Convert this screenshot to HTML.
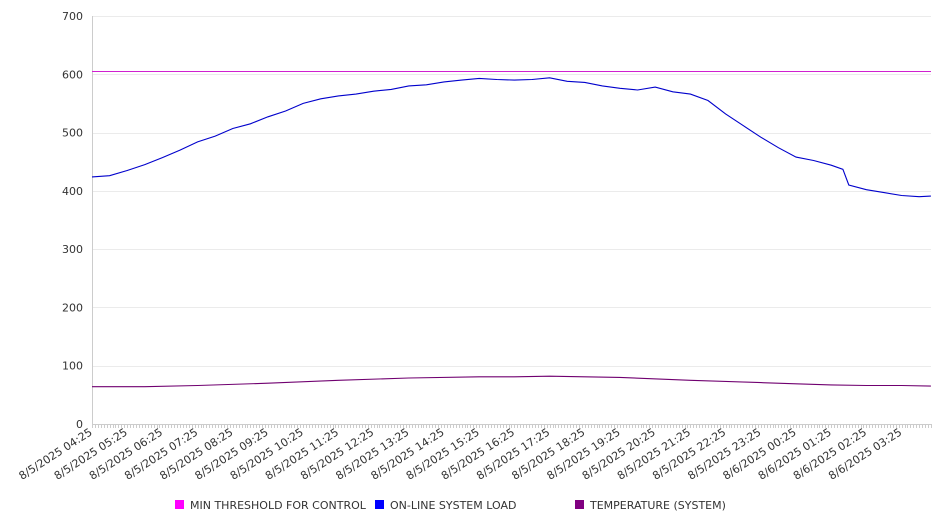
<!DOCTYPE html>
<html><head><meta charset="utf-8">
<style>
html,body{margin:0;padding:0;background:#fff;}
svg{display:block;font-family:"DejaVu Sans","Liberation Sans",sans-serif;}
</style></head>
<body>
<svg id="chart" width="946" height="526" xmlns="http://www.w3.org/2000/svg">
<g id="grid"></g>
<g id="yaxis"></g>
<g id="xaxis"></g>
<g id="series"></g>
<g id="legend">
  <g>
    <rect x="175" y="500" width="9" height="9" fill="#ff00ff"/>
    <text x="190" y="509" font-size="11" fill="#333">MIN THRESHOLD FOR CONTROL</text>
  </g>
  <g>
    <rect x="375" y="500" width="9" height="9" fill="#0000ff"/>
    <text x="390" y="509" font-size="11" fill="#333">ON-LINE SYSTEM LOAD</text>
  </g>
  <g>
    <rect x="575" y="500" width="9" height="9" fill="#800080"/>
    <text x="590" y="509" font-size="11" fill="#333">TEMPERATURE (SYSTEM)</text>
  </g>
</g>
</svg>
<script>
const yTicks = [0,100,200,300,400,500,600,700];
const xLabels = ["8/5/2025 04:25","8/5/2025 05:25","8/5/2025 06:25","8/5/2025 07:25","8/5/2025 08:25","8/5/2025 09:25","8/5/2025 10:25","8/5/2025 11:25","8/5/2025 12:25","8/5/2025 13:25","8/5/2025 14:25","8/5/2025 15:25","8/5/2025 16:25","8/5/2025 17:25","8/5/2025 18:25","8/5/2025 19:25","8/5/2025 20:25","8/5/2025 21:25","8/5/2025 22:25","8/5/2025 23:25","8/6/2025 00:25","8/6/2025 01:25","8/6/2025 02:25","8/6/2025 03:25"];
// minutes since 04:25
const loadTimes = [0,30,60,90,120,150,180,210,240,270,300,330,360,390,420,450,480,510,540,570,600,630,660,690,720,750,780,810,840,870,900,930,960,990,1020,1050,1080,1110,1140,1170,1200,1230,1260,1280,1290,1320,1350,1380,1410,1430];
const loadValues = [424,426,435,445,457,470,484,494,507,515,527,537,550,558,563,566,571,574,580,582,587,590,593,591,590,591,594,588,586,580,576,573,578,570,566,555,532,512,492,474,458,452,444,437,410,402,397,392,390,391];
const tempTimes = [0,90,180,300,420,540,660,720,780,900,1020,1140,1200,1260,1320,1380,1430];
const tempValues = [64,64,66,70,75,79,81,81,82,80,75,71,69,67,66,66,65];
const thresholdValue = 605;

const X0=92, X1=931, Y0=424, Y1=16, TOT=1430, MIN_PER_HOUR=60, PX_PER_MIN=35.2/60;
const x = t => X0 + t*PX_PER_MIN;
const y = v => Y0 - (v/700)*(Y0-Y1);
const NS="http://www.w3.org/2000/svg";
function mk(tag, attrs, parent){const e=document.createElementNS(NS,tag);for(const k in attrs)e.setAttribute(k,attrs[k]);parent.appendChild(e);return e;}

const grid=document.getElementById('grid'), ya=document.getElementById('yaxis'), xa=document.getElementById('xaxis'), se=document.getElementById('series');
yTicks.forEach(v=>{
  const g=mk('line',{x1:X0,x2:X1,y1:Math.round(y(v))+0.5,y2:Math.round(y(v))+0.5,stroke:'#ebebeb','stroke-width':1},grid);
  
  
  const t=mk('text',{x:83,y:y(v)+4,'text-anchor':'end','font-size':11,fill:'#333'},ya);
  
  
  t.textContent=v;
});
const ax=mk('line',{x1:X0+0.5,x2:X0+0.5,y1:Y1,y2:Y0,stroke:'#ccc'},ya);


const bx=mk('line',{x1:X0,x2:X1,y1:Y0+0.5,y2:Y0+0.5,stroke:'#ccc'},xa);


for(let m=0;m<=TOT;m+=5){
  const tk=mk('line',{x1:Math.round(x(m))+0.5,x2:Math.round(x(m))+0.5,y1:Y0,y2:Y0+4,stroke:'#ccc'},xa);
  
  
}
xLabels.forEach((l,i)=>{
  const px=x(i*MIN_PER_HOUR)+1, py=Y0+10;
  const t=mk('text',{x:px,y:py,'text-anchor':'end','font-size':11,fill:'#333',transform:`rotate(-33 ${px} ${py})`},xa);
  
  
  t.textContent=l;
});
const thy=Math.round(y(thresholdValue))+0.5;
const th=mk('line',{x1:X0,x2:X1,y1:thy,y2:thy,stroke:'#d020d0','stroke-width':1},se);


function path(ts,vs,color,name){
  const d=ts.map((t,i)=>(i?'L':'M')+x(t).toFixed(1)+' '+y(vs[i]).toFixed(1)).join(' ');
  const p=mk('path',{d:d,fill:'none',stroke:color,'stroke-width':1.1,'shape-rendering':'geometricPrecision'},se);
  
  
}
path(tempTimes,tempValues,'#700070','temperature-line');
path(loadTimes,loadValues,'#0000cc','online-load-line');
</script>
</body></html>
